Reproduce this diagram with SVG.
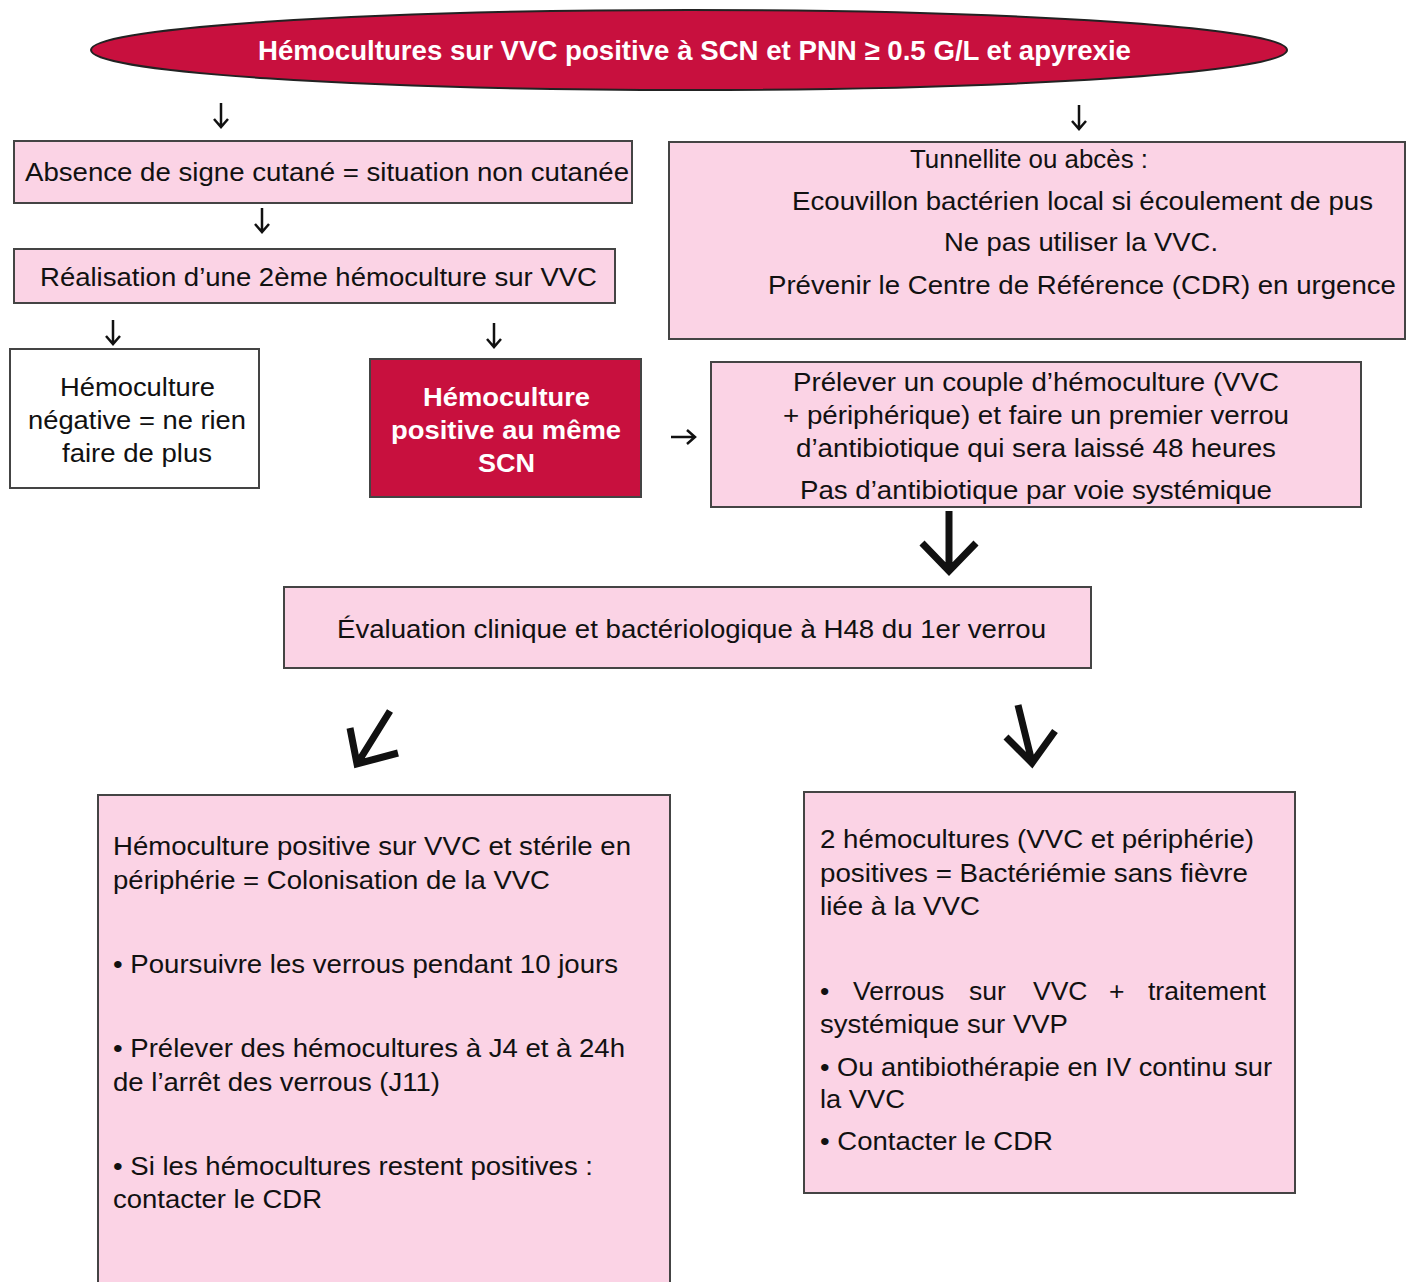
<svg xmlns="http://www.w3.org/2000/svg" width="1408" height="1282" viewBox="0 0 1408 1282">
<style>
text{font-family:"Liberation Sans",Arial,sans-serif;font-size:26.5px;fill:#111}
.w{fill:#fff;font-weight:bold}
.pink{fill:#fbd3e5;stroke:#444;stroke-width:2}
.white{fill:#fff;stroke:#444;stroke-width:2}
.red{fill:#c8103e;stroke:#444;stroke-width:2}
.sa{fill:none;stroke:#111;stroke-width:2.5}
.ba{fill:none;stroke:#111;stroke-width:7}
</style>
<rect width="1408" height="1282" fill="#fff"/>
<g id="connectors">
<path class="sa" d="M221,103V127M214,119L221,127L228,119"/>
<path class="sa" d="M1079,105V129M1072,121L1079,129L1086,121"/>
<path class="sa" d="M262,208V232M255,224L262,232L269,224"/>
<path class="sa" d="M113,320V344M106,336L113,344L120,336"/>
<path class="sa" d="M494,323V347M487,339L494,347L501,339"/>
<path class="sa" d="M671,437H695M687,430L695,437L687,444"/>
<path class="ba" d="M949,511V570M922,543L949,571L976,543"/>
<path class="ba" d="M390,711L357,764M350,728L357,764L398,753"/>
<path class="ba" d="M1018,705L1032,762M1006,737L1032,763L1055,731"/>
</g>
<g id="n_top">
<ellipse cx="689" cy="50" rx="598" ry="40" fill="#c8103e" stroke="#222" stroke-width="2"/>
<text class="w" x="258" y="60" style="font-size:28px" textLength="873" lengthAdjust="spacingAndGlyphs">Hémocultures sur VVC positive à SCN et PNN ≥ 0.5 G/L et apyrexie</text>
</g>
<g id="n_absence">
<rect class="pink" x="14" y="141" width="618" height="62"/>
<text x="25" y="181" textLength="604" lengthAdjust="spacingAndGlyphs">Absence de signe cutané = situation non cutanée</text>
</g>
<g id="n_realisation">
<rect class="pink" x="14" y="249" width="601" height="54"/>
<text x="40" y="286" textLength="557" lengthAdjust="spacingAndGlyphs">Réalisation d’une 2ème hémoculture sur VVC</text>
</g>
<g id="n_tunnellite">
<rect class="pink" x="669" y="142" width="736" height="197"/>
<text x="910" y="168" textLength="238" lengthAdjust="spacingAndGlyphs">Tunnellite ou abcès :</text>
<text x="792" y="210" textLength="581" lengthAdjust="spacingAndGlyphs">Ecouvillon bactérien local si écoulement de pus</text>
<text x="944" y="251" textLength="274" lengthAdjust="spacingAndGlyphs">Ne pas utiliser la VVC.</text>
<text x="768" y="294" textLength="628" lengthAdjust="spacingAndGlyphs">Prévenir le Centre de Référence (CDR) en urgence</text>
</g>
<g id="n_negative">
<rect class="white" x="10" y="349" width="249" height="139"/>
<text x="60" y="396" textLength="155" lengthAdjust="spacingAndGlyphs">Hémoculture</text>
<text x="28" y="429" textLength="218" lengthAdjust="spacingAndGlyphs">négative = ne rien</text>
<text x="62" y="462" textLength="150" lengthAdjust="spacingAndGlyphs">faire de plus</text>
</g>
<g id="n_positive">
<rect class="red" x="370" y="359" width="271" height="138"/>
<text class="w" x="423" y="406" textLength="167" lengthAdjust="spacingAndGlyphs">Hémoculture</text>
<text class="w" x="391" y="439" textLength="230" lengthAdjust="spacingAndGlyphs">positive au même</text>
<text class="w" x="478" y="472" textLength="57" lengthAdjust="spacingAndGlyphs">SCN</text>
</g>
<g id="n_prelever">
<rect class="pink" x="711" y="362" width="650" height="145"/>
<text x="793" y="391" textLength="486" lengthAdjust="spacingAndGlyphs">Prélever un couple d’hémoculture (VVC</text>
<text x="783" y="424" textLength="506" lengthAdjust="spacingAndGlyphs">+ périphérique) et faire un premier verrou</text>
<text x="796" y="457" textLength="480" lengthAdjust="spacingAndGlyphs">d’antibiotique qui sera laissé 48 heures</text>
<text x="800" y="499" textLength="472" lengthAdjust="spacingAndGlyphs">Pas d’antibiotique par voie systémique</text>
</g>
<g id="n_evaluation">
<rect class="pink" x="284" y="587" width="807" height="81"/>
<text x="337" y="638" textLength="709" lengthAdjust="spacingAndGlyphs">Évaluation clinique et bactériologique à H48 du 1er verrou</text>
</g>
<g id="n_colonisation">
<rect class="pink" x="98" y="795" width="572" height="500"/>
<text x="113" y="855" textLength="518" lengthAdjust="spacingAndGlyphs">Hémoculture positive sur VVC et stérile en</text>
<text x="113" y="889" textLength="437" lengthAdjust="spacingAndGlyphs">périphérie = Colonisation de la VVC</text>
<text x="113" y="973" textLength="505" lengthAdjust="spacingAndGlyphs">• Poursuivre les verrous pendant 10 jours</text>
<text x="113" y="1057" textLength="512" lengthAdjust="spacingAndGlyphs">• Prélever des hémocultures à J4 et à 24h</text>
<text x="113" y="1091" textLength="327" lengthAdjust="spacingAndGlyphs">de l’arrêt des verrous (J11)</text>
<text x="113" y="1175" textLength="480" lengthAdjust="spacingAndGlyphs">• Si les hémocultures restent positives :</text>
<text x="113" y="1208" textLength="209" lengthAdjust="spacingAndGlyphs">contacter le CDR</text>
</g>
<g id="n_bacteriemie">
<rect class="pink" x="804" y="792" width="491" height="401"/>
<text x="820" y="848" textLength="434" lengthAdjust="spacingAndGlyphs">2 hémocultures (VVC et périphérie)</text>
<text x="820" y="882" textLength="428" lengthAdjust="spacingAndGlyphs">positives = Bactériémie sans fièvre</text>
<text x="820" y="915" textLength="160" lengthAdjust="spacingAndGlyphs">liée à la VVC</text>
<text y="1000"><tspan x="820">•</tspan><tspan x="853">Verrous</tspan><tspan x="969">sur</tspan><tspan x="1033">VVC</tspan><tspan x="1109">+</tspan><tspan x="1148">traitement</tspan></text>
<text x="820" y="1033" textLength="248" lengthAdjust="spacingAndGlyphs">systémique sur VVP</text>
<text x="820" y="1076" textLength="452" lengthAdjust="spacingAndGlyphs">• Ou antibiothérapie en IV continu sur</text>
<text x="820" y="1108" textLength="85" lengthAdjust="spacingAndGlyphs">la VVC</text>
<text x="820" y="1150" textLength="233" lengthAdjust="spacingAndGlyphs">• Contacter le CDR</text>
</g>
</svg>
